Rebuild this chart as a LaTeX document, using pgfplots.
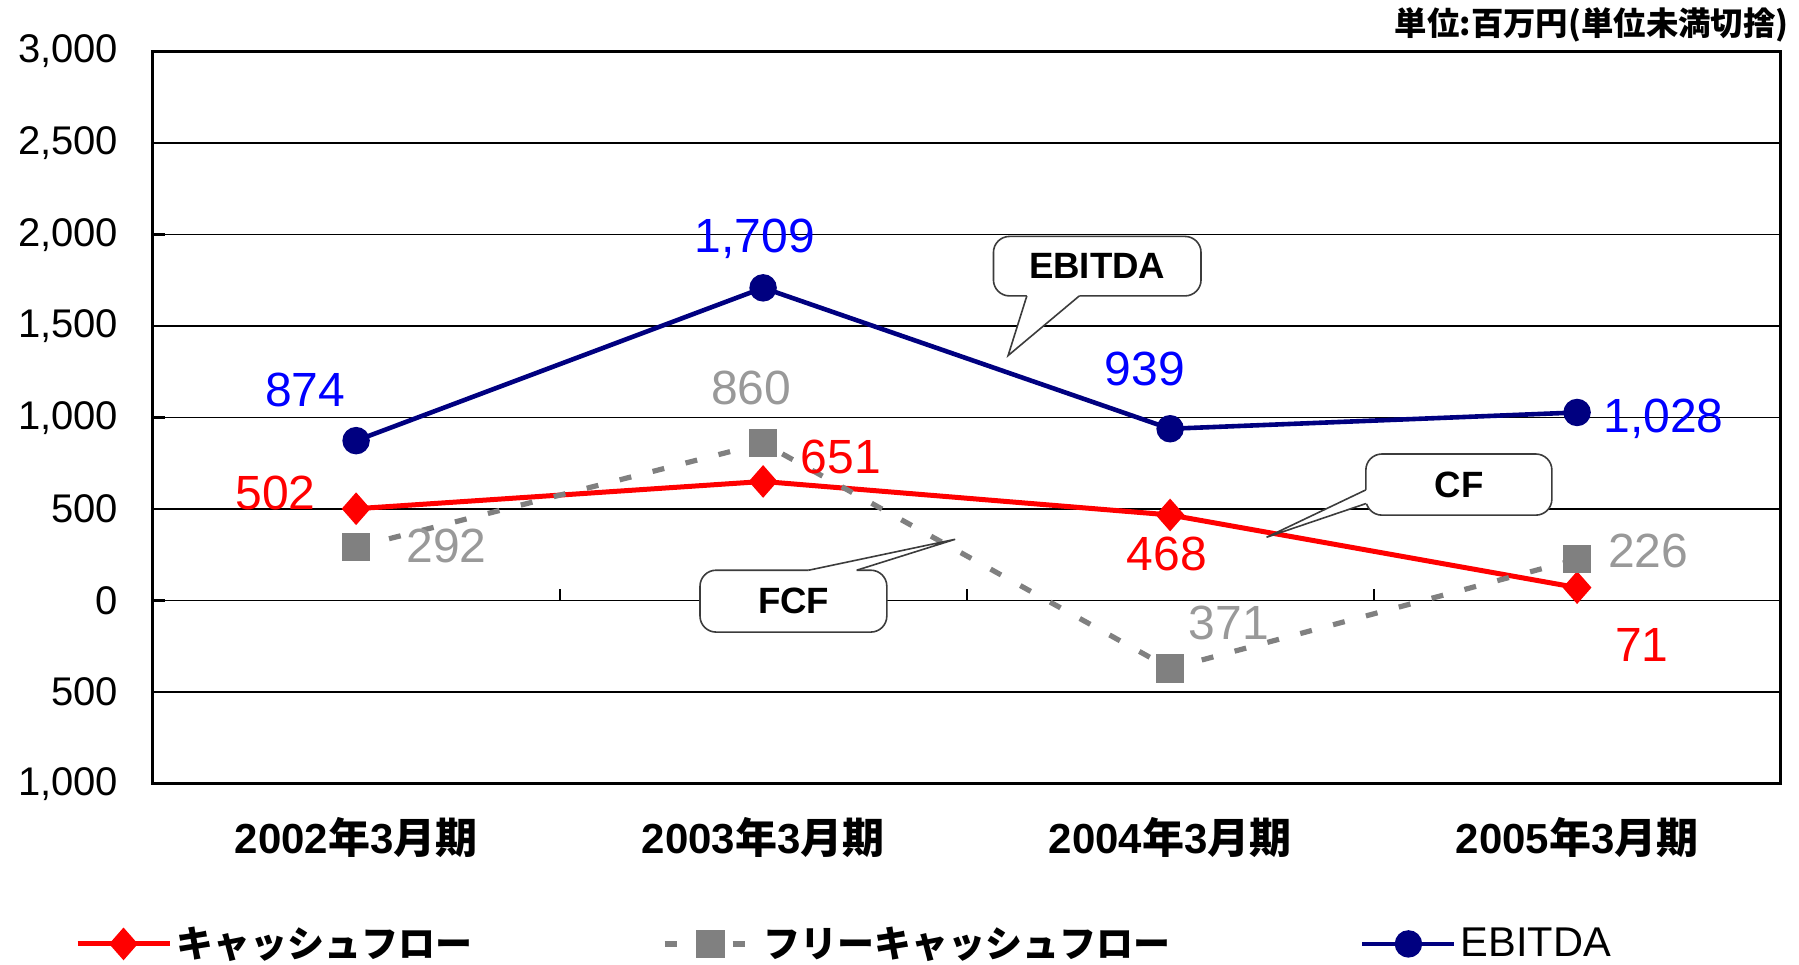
\documentclass[border=0pt]{standalone}
\usepackage{fontspec}
\setmainfont{Liberation Sans}
\newfontfamily\jp{Noto Sans CJK JP}
\usepackage{pgfplots}
\pgfplotsset{compat=1.18}

\definecolor{cfred}{RGB}{255,0,0}
\definecolor{fcfgray}{RGB}{128,128,128}
\definecolor{fcflab}{RGB}{153,153,153}
\definecolor{ebnavy}{RGB}{0,0,128}
\definecolor{eblab}{RGB}{0,0,255}
\definecolor{callout}{RGB}{60,60,60}

\newcommand{\lab}{\fontsize{24bp}{27bp}\selectfont}
\newcommand{\cfont}{\bfseries\fontsize{18.3bp}{20bp}\selectfont}

\begin{document}
\begin{tikzpicture}
\path[use as bounding box] (0,0) rectangle (899.5bp,482.5bp);
\begin{axis}[
  at={(76.3bp,90.7bp)}, anchor=south west,
  scale only axis, width=814bp, height=366bp,
  xmin=-0.5, xmax=3.5, ymin=-1000, ymax=3000,
  xtick={0,1,2,3},
  xticklabels={
    {\bfseries 2002{\jp 年}3{\jp 月期}},
    {\bfseries 2003{\jp 年}3{\jp 月期}},
    {\bfseries 2004{\jp 年}3{\jp 月期}},
    {\bfseries 2005{\jp 年}3{\jp 月期}}},
  xtick style={draw=none},
  xticklabel style={anchor=center, yshift=-27bp, font=\fontsize{21bp}{24bp}\selectfont},
  ytick={-1000,-500,0,500,1000,1500,2000,2500,3000},
  yticklabels={{1,000},{500},{0},{500},{1,000},{1,500},{2,000},{2,500},{3,000}},
  yticklabel style={anchor=east, inner sep=0pt, xshift=-17bp, font=\fontsize{20bp}{23bp}\selectfont},
  ytick pos=left, tick align=inside, major tick length=6bp,
  ytick style={black, line width=1.3bp},
  ymajorgrids, grid style={black, line width=0.9bp},
  axis line style={black, line width=1.3bp},
  clip=false,
  legend image code/.code={\draw[mark repeat=2,mark phase=2] plot coordinates {(0bp,0bp) (23bp,0bp) (46bp,0bp)};},
  legend columns=3,
  legend cell align=left,
  legend style={at={(-0.0479,-0.219)}, anchor=west, draw=none, fill=none, inner sep=0pt,
    font=\fontsize{18.5bp}{22bp}\selectfont,
    /tikz/every even column/.append style={column sep=93bp}},
]
\addplot[cfred, line width=2.5bp, mark=diamond*, mark size=6.3bp, mark options={solid, xscale=1.17}]
  coordinates {(0,502) (1,651) (2,468) (3,71)};
\addlegendentry{{\jp\bfseries キャッシュフロー}}
\addplot[fcfgray, line width=2.6bp, dash pattern=on 6bp off 11bp, mark=square*, mark size=5.75bp, mark options={solid}]
  coordinates {(0,292) (1,860) (2,-371) (3,226)};
\addlegendentry{{\jp\bfseries フリーキャッシュフロー}}
\addplot[ebnavy, line width=2.3bp, mark=*, mark size=5.7bp]
  coordinates {(0,874) (1,1709) (2,939) (3,1028)};
\addlegendentry{{\fontsize{20.8bp}{22bp}\selectfont EBITDA}}

% category axis tick marks on the zero line
\draw[black, line width=1bp] (axis cs:0.5,0) -- ([yshift=6bp]axis cs:0.5,0);
\draw[black, line width=1bp] (axis cs:1.5,0) -- ([yshift=6bp]axis cs:1.5,0);
\draw[black, line width=1bp] (axis cs:2.5,0) -- ([yshift=6bp]axis cs:2.5,0);

% data labels
\node[eblab, font=\lab, inner sep=0] at (axis cs:-0.125,1150) {874};
\node[eblab, font=\lab, inner sep=0] at (axis cs:0.980,1978) {1,709};
\node[eblab, font=\lab, inner sep=0] at (axis cs:1.938,1263) {939};
\node[eblab, font=\lab, inner sep=0] at (axis cs:3.212,994) {1,028};
\node[cfred, font=\lab, inner sep=0] at (axis cs:-0.198,586) {502};
\node[cfred, font=\lab, inner sep=0] at (axis cs:1.191,787) {651};
\node[cfred, font=\lab, inner sep=0] at (axis cs:1.992,254) {468};
\node[cfred, font=\lab, inner sep=0] at (axis cs:3.159,-241) {71};
\node[fcflab, font=\lab, inner sep=0] at (axis cs:0.222,298) {292};
\node[fcflab, font=\lab, inner sep=0] at (axis cs:0.971,1163) {860};
\node[fcflab, font=\lab, inner sep=0] at (axis cs:2.144,-122) {371};
\node[fcflab, font=\lab, inner sep=0] at (axis cs:3.175,273) {226};

% EBITDA callout
\draw[callout, line width=0.8bp, fill=white, rounded corners=8bp] (axis cs:1.566,1990) rectangle (axis cs:2.076,1665);
\fill[white] ([yshift=2bp]axis cs:1.648,1665) -- (axis cs:1.648,1665) -- (axis cs:1.602,1339) -- (axis cs:1.777,1665) -- ([yshift=2bp]axis cs:1.777,1665) -- cycle;
\draw[callout, line width=0.8bp] (axis cs:1.648,1665) -- (axis cs:1.602,1339) -- (axis cs:1.777,1665);
\node[font=\cfont] at (axis cs:1.821,1830) {EBITDA};

% CF callout
\draw[callout, line width=0.8bp, fill=white, rounded corners=8bp] (axis cs:2.481,801) rectangle (axis cs:2.938,467);
\fill[white] ([xshift=2bp]axis cs:2.481,605) -- (axis cs:2.481,605) -- (axis cs:2.237,346) -- (axis cs:2.481,530) -- ([xshift=2bp]axis cs:2.481,530) -- cycle;
\draw[callout, line width=0.8bp] (axis cs:2.481,605) -- (axis cs:2.237,346) -- (axis cs:2.481,530);
\node[font=\cfont] at (axis cs:2.71,634) {CF};

% FCF callout
\draw[callout, line width=0.8bp, fill=white, rounded corners=8bp] (axis cs:0.845,166) rectangle (axis cs:1.304,-172);
\fill[white] ([yshift=-2bp]axis cs:1.112,166) -- (axis cs:1.112,166) -- (axis cs:1.472,335) -- (axis cs:1.230,166) -- ([yshift=-2bp]axis cs:1.230,166) -- cycle;
\draw[callout, line width=0.8bp] (axis cs:1.112,166) -- (axis cs:1.472,335) -- (axis cs:1.230,166);
\node[font=\cfont] at (axis cs:1.075,-3) {FCF};
\end{axis}
\node[anchor=east, inner sep=0pt, font=\jp\bfseries\fontsize{16.2bp}{18bp}\selectfont] at (894.5bp,470bp) {単位:百万円(単位未満切捨)};
\end{tikzpicture}
\end{document}
